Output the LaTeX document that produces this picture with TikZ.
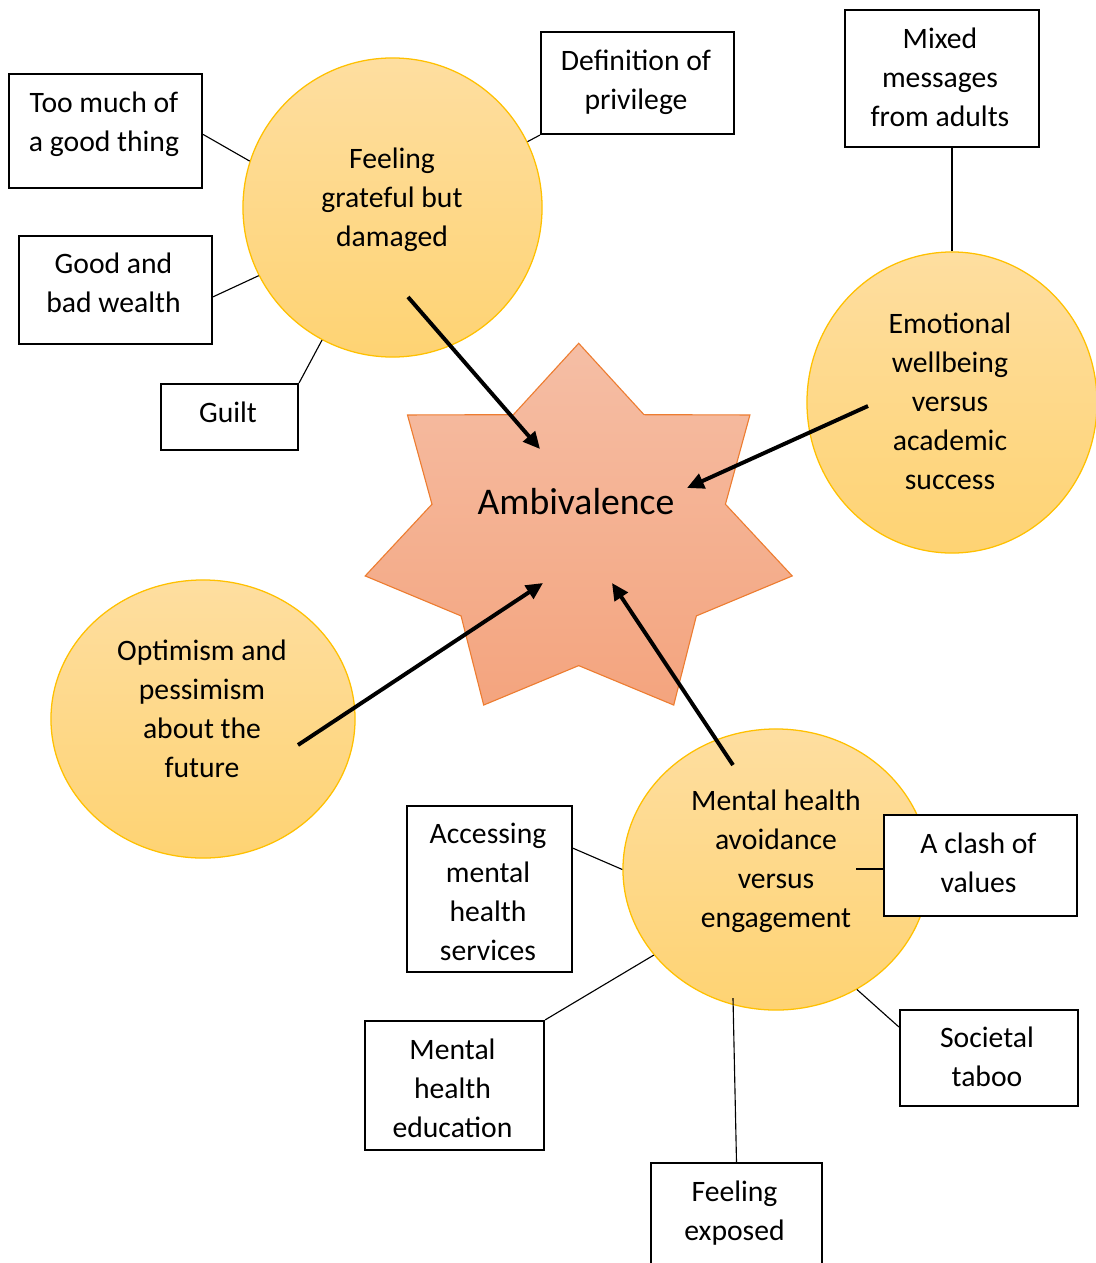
\documentclass[tikz,border=0pt]{standalone}
\usepackage{fontspec}
\setmainfont{Carlito}
\usetikzlibrary{calc, positioning, arrows.meta, shapes.geometric}
\definecolor{goldtop}{RGB}{254,222,160}
\definecolor{goldbot}{RGB}{254,211,115}
\definecolor{goldline}{RGB}{255,192,0}
\definecolor{startop}{RGB}{245,190,165}
\definecolor{starbot}{RGB}{244,164,126}
\definecolor{starline}{RGB}{237,125,49}

\tikzset{
  theme/.style={draw=goldline, line width=0.9pt, ellipse, inner sep=0pt, top color=goldtop, bottom color=goldbot},
  thing/.style={draw, rectangle, line width=1.5pt, fill=white, inner sep=0pt},
  words/.style={align=center},
  link/.style={line width=0.8pt},
  push/.style={line width=2.8pt, -{Triangle[length=12pt, width=11pt]}}
}

\begin{document}
\begin{tikzpicture}[x=0.025cm, y=-0.025cm, font=\fontsize{21.1}{27.7}\selectfont]
          \path[use as bounding box] (0,0) rectangle (1096,1263);
          \clip (0,0) rectangle (1096,1263);

          % the star in the middle
          \path[draw=starline, line width=0.8pt, top color=startop, bottom color=starbot]
            (578.7,343.3)
            \foreach \k in {0,...,6} {
              -- ({578.7+219*sin(\k*360/7)}, {533.6-190.3*cos(\k*360/7)})
              -- ({578.7+150.5*sin(\k*360/7+180/7)}, {533.6-132*cos(\k*360/7+180/7)})
            } -- cycle;
          \node[font=\fontsize{26.8}{32}\selectfont] (amb) at (576,502) {Ambivalence};

          % themes
          \node[theme, minimum width=7.475cm, minimum height=7.475cm] (grateful) at (392.5,207.5) {};
          \node[theme, minimum width=7.25cm, minimum height=7.525cm] (emotional) at (952,402.5) {};
          \node[theme, minimum width=7.6cm, minimum height=6.95cm] (optimism) at (203,719) {};
          \node[theme, minimum width=7.65cm, minimum height=7.025cm] (mental) at (776,869.5) {};

          \node[words] (gratefulText) at (392,200) {Feeling\\grateful but\\damaged};
          \node[words] (emotionalText) at (950,401) {Emotional\\wellbeing\\versus\\academic\\success};
          \node[words] (optimismText) at (202,709) {Optimism and\\pessimism\\about the\\future};
          \node[words] (mentalText) at (776,861) {Mental health\\avoidance\\versus\\engagement};

          % sub-themes
          \node[thing, minimum width=4.825cm, minimum height=2.85cm] (toomuch) at (105.5,131) {};
          \node[thing, minimum width=4.825cm, minimum height=2.55cm] (privilege) at (637.5,83) {};
          \node[thing, minimum width=4.825cm, minimum height=2.7cm] (wealth) at (115.5,290) {};
          \node[thing, minimum width=3.425cm, minimum height=1.65cm] (guilt) at (229.5,417) {};
          \node[thing, minimum width=4.85cm, minimum height=3.425cm] (mixed) at (942,78.5) {};
          \node[thing, minimum width=4.125cm, minimum height=4.15cm] (accessing) at (489.5,889) {};
          \node[thing, minimum width=4.825cm, minimum height=2.525cm] (clash) at (980.5,865.5) {};
          \node[thing, minimum width=4.475cm, minimum height=3.225cm] (education) at (454.5,1085.5) {};
          \node[thing, minimum width=4.45cm, minimum height=2.4cm] (taboo) at (989,1058) {};
          \node[thing, minimum width=4.275cm, minimum height=2.8cm] (exposed) at (736.5,1219) {};

          \node[words] (toomuchText) at (104,124) {Too much of\\a good thing};
          \node[words] (privilegeText) at (636,82) {Definition of\\privilege};
          \node[words] (wealthText) at (113.5,283) {Good and\\bad wealth};
          \node[words] (guiltText) at (228,412) {Guilt};
          \node[words] (mixedText) at (940,77) {Mixed\\messages\\from adults};
          \node[words] (accessingText) at (488,892) {Accessing\\mental\\health\\services};
          \node[words] (clashText) at (978.5,862.5) {A clash of\\values};
          \node[words] (educationText) at (452.5,1088.5) {Mental\\health\\education};
          \node[words] (tabooText) at (987,1057) {Societal\\taboo};
          \node[words] (exposedText) at (734.5,1213) {Feeling\\exposed};

          % thin links
          \coordinate (clashEnd) at (856,869);
          \coordinate (exposedEnd) at (733,998);
          \draw[link] (toomuch.-2) -- (grateful.162);
          \draw[link] (privilege.south west) -- (grateful.26);
          \draw[link] (wealth.-4) -- (grateful.207);
          \draw[link] (guilt.north east) -- (grateful.242);
          \draw[link] (emotional.north) -- (emotional.north |- mixed.south);
          \draw[link] (accessing.26) -- (mental.west);
          \draw[link] (clashEnd) -- (clashEnd -| clash.west);
          \draw[link] (education.north east) -- (mental.215);
          \draw[link] (taboo.161) -- (mental.-56);
          \draw[link] (exposed.north) -- (exposedEnd);

          % thick arrows into the star
          \coordinate (gratefulTail) at (408,297);
          \coordinate (gratefulTip) at (540,449);
          \coordinate (emotionalTail) at (868,406);
          \coordinate (emotionalTip) at (687,488);
          \coordinate (optimismTail) at (298,745);
          \coordinate (optimismTip) at (543,583);
          \coordinate (mentalTail) at (733,765);
          \coordinate (mentalTip) at (612,583);
          \draw[push] (gratefulTail) -- (gratefulTip);
          \draw[push] (emotionalTail) -- (emotionalTip);
          \draw[push] (optimismTail) -- (optimismTip);
          \draw[push] (mentalTail) -- (mentalTip);
      \end{tikzpicture}
\end{document}
